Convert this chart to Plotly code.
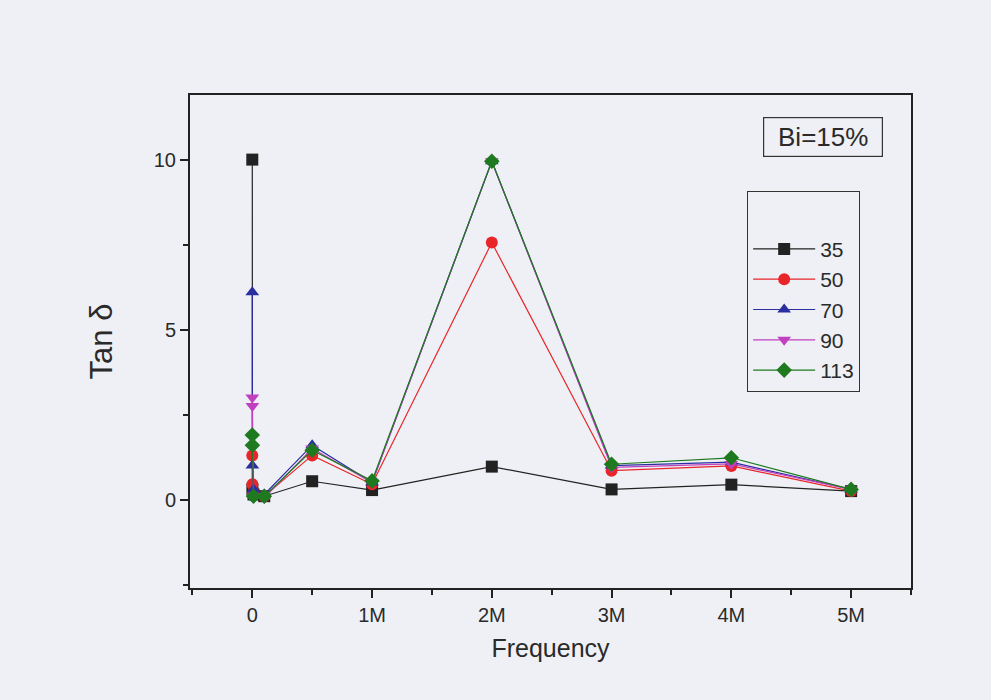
import plotly.graph_objects as go

# Frequencies (Hz)
frequency = [100, 1e3, 1e4, 1e5, 5e5, 1e6, 2e6, 3e6, 4e6, 5e6]

series_names = ["35", "50", "70", "90", "113"]
tan_35 = [10.0, 0.30, 0.15, 0.10, 0.54, 0.28, 0.97, 0.30, 0.44, 0.25]
tan_50 = [1.30, 0.45, 0.20, 0.10, 1.30, 0.45, 7.56, 0.85, 0.99, 0.25]
tan_70 = [6.10, 1.00, 0.30, 0.15, 1.60, 0.50, 9.95, 1.00, 1.10, 0.30]
tan_90 = [3.00, 2.75, 0.10, 0.05, 1.50, 0.50, 9.95, 0.95, 1.05, 0.30]
tan_113 = [1.90, 1.60, 0.10, 0.10, 1.45, 0.55, 9.95, 1.04, 1.23, 0.30]

x_tickvals = [0, 1e6, 2e6, 3e6, 4e6, 5e6]
x_ticktext = ["0", "1M", "2M", "3M", "4M", "5M"]
y_tickvals = [0, 5, 10]

colors = ["#222222", "#e8262a", "#2a2ea0", "#c040c0", "#1f7a1f"]
symbols = ["square", "circle", "triangle-up", "triangle-down", "diamond"]
data = [tan_35, tan_50, tan_70, tan_90, tan_113]

fig = go.Figure()
for name, vals, c, s in zip(series_names, data, colors, symbols):
    fig.add_trace(go.Scatter(
        x=frequency, y=vals, name=name, mode="lines+markers",
        line=dict(color=c, width=1.2),
        marker=dict(color=c, symbol=s, size=12, line=dict(width=0)),
    ))

bg = "#eef0f5"
txt = "#2a2a2a"
fig.update_layout(
    width=991, height=700,
    paper_bgcolor=bg, plot_bgcolor=bg,
    margin=dict(l=190, r=80, t=95, b=112),
    font=dict(family="Liberation Sans, Arial, sans-serif", color=txt),
    showlegend=True,
    legend=dict(
        x=0.7725, y=0.805, xanchor="left", yanchor="top",
        bgcolor=bg, bordercolor="#333333", borderwidth=1.2,
        font=dict(size=21, color=txt),
        title=dict(text=" ", font=dict(size=28)),
        itemwidth=62, tracegroupgap=0,
    ),
    annotations=[dict(
        text="Bi=15%", xref="paper", yref="paper", x=0.878, y=0.914,
        xanchor="center", yanchor="middle", showarrow=False,
        font=dict(size=26, color=txt), width=112, height=32,
        bordercolor="#333333", borderwidth=1.2, borderpad=3, bgcolor=bg,
    )],
)
fig.update_xaxes(
    range=[-0.52e6, 5.5e6], tickvals=x_tickvals, ticktext=x_ticktext,
    ticks="outside", ticklen=8, tickwidth=1.5, tickcolor="#222222",
    minor=dict(dtick=5e5, tick0=0, ticks="outside", ticklen=5, tickcolor="#222222"),
    showline=True, linecolor="#222222", linewidth=2, mirror=True,
    showgrid=False, zeroline=False,
    tickfont=dict(size=20, color=txt),
    title=dict(text="Frequency", font=dict(size=25, color=txt), standoff=14),
)
fig.update_yaxes(
    range=[-2.6, 11.9], tickvals=y_tickvals,
    ticks="outside", ticklen=8, tickwidth=1.5, tickcolor="#222222",
    minor=dict(dtick=2.5, tick0=0, ticks="outside", ticklen=5, tickcolor="#222222"),
    showline=True, linecolor="#222222", linewidth=2, mirror=True,
    showgrid=False, zeroline=False,
    tickfont=dict(size=20, color=txt),
    title=dict(text="Tan δ", font=dict(size=31, color=txt), standoff=32),
)

fig.write_html(
    "out.html",
    config={"displayModeBar": False},
    post_script="document.body.style.margin='0';document.body.style.background='#eef0f5';",
)
